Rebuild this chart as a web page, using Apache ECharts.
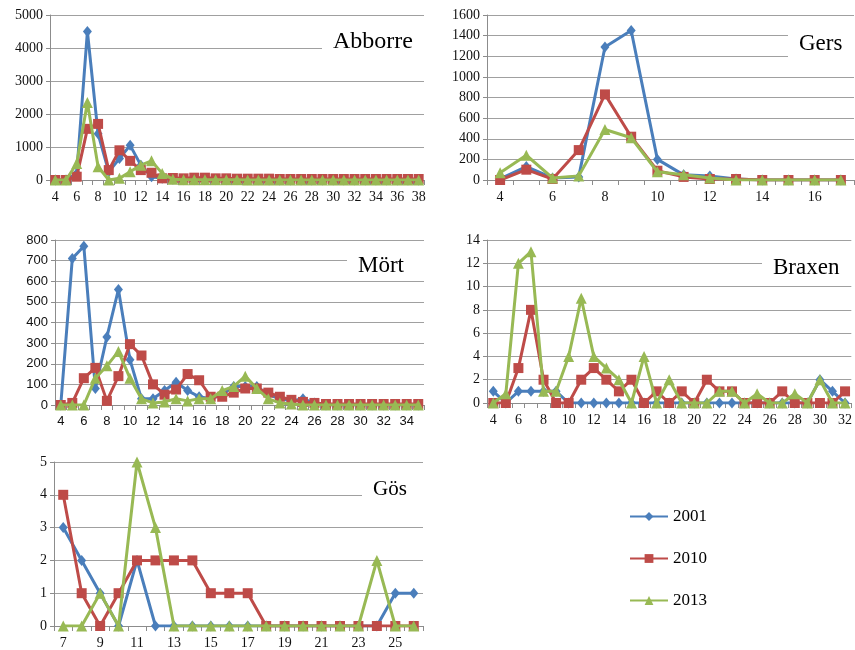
<!DOCTYPE html>
<html>
<head>
<meta charset="utf-8">
<script src="https://cdn.jsdelivr.net/npm/echarts@6/dist/echarts.min.js"></script>
<style>
  html, body { margin: 0; padding: 0; background: #fff; }
  #chart { width: 855px; height: 650px; }
</style>
</head>
<body>
<div id="chart"></div>
<script>
// Length classes (cm) per species
const abborreCats = [4,5,6,7,8,9,10,11,12,13,14,15,16,17,18,19,20,21,22,23,24,25,26,27,28,29,30,31,32,33,34,35,36,37,38];
const abborre2001 = [0,0,200,4500,1400,250,650,1050,450,100,50,20,10,10,10,5,5,5,5,5,0,0,0,0,0,0,0,0,0,0,0,0,0,0,0];
const abborre2010 = [0,0,100,1550,1700,300,900,580,300,220,50,60,50,70,70,50,50,40,40,40,40,30,30,30,30,30,30,30,30,30,30,30,30,30,30];
const abborre2013 = [0,0,500,2350,400,0,50,250,450,580,200,20,10,10,10,5,5,5,0,0,0,0,0,0,0,0,0,0,0,0,0,0,0,0,0];

const gersCats = [4,5,6,7,8,9,10,11,12,13,14,15,16,17];
const gers2001 = [10,130,20,30,1290,1450,200,50,40,10,0,0,0,0];
const gers2010 = [0,100,10,290,830,420,90,30,10,10,0,0,0,0];
const gers2013 = [70,240,20,40,490,410,80,50,20,0,0,0,0,0];

const mortCats = [4,5,6,7,8,9,10,11,12,13,14,15,16,17,18,19,20,21,22,23,24,25,26,27,28,29,30,31,32,33,34,35];
const mort2001 = [0,710,770,80,330,560,220,30,30,70,110,70,40,30,50,90,90,90,50,30,20,30,10,0,0,0,0,0,0,0,0,0];
const mort2010 = [0,10,130,180,20,140,295,240,100,50,75,150,120,40,40,60,80,80,60,40,25,15,10,5,5,5,5,5,5,5,5,5];
const mort2013 = [0,0,0,130,190,260,130,30,10,15,30,20,30,30,70,90,140,80,30,10,5,0,0,0,0,0,0,0,0,0,0,0];

const braxenCats = [4,5,6,7,8,9,10,11,12,13,14,15,16,17,18,19,20,21,22,23,24,25,26,27,28,29,30,31,32];
const braxen2001 = [1,0,1,1,1,1,0,0,0,0,0,0,0,0,0,0,0,0,0,0,0,0,0,0,0,0,2,1,0];
const braxen2010 = [0,0,3,8,2,0,0,2,3,2,1,2,0,1,0,1,0,2,1,1,0,0,0,1,0,0,0,0,1];
const braxen2013 = [0,0.8,12,13,1,1,4,9,4,3,2,0,4,0,2,0,0,0,1,1,0,0.8,0,0,0.8,0,2,0,0];

const gosCats = [7,8,9,10,11,12,13,14,15,16,17,18,19,20,21,22,23,24,25,26];
const gos2001 = [3,2,1,0,2,0,0,0,0,0,0,0,0,0,0,0,0,0,1,1];
const gos2010 = [4,1,0,1,2,2,2,2,1,1,1,0,0,0,0,0,0,0,0,0];
const gos2013 = [0,0,1,0,5,3,0,0,0,0,0,0,0,0,0,0,0,2,0,0];

const years = ['2001', '2010', '2013'];
const colors = { '2001': '#4A7EBB', '2010': '#BE4B48', '2013': '#98B954' };
const symbols = { '2001': ['diamond', [9, 11]], '2010': ['rect', 10], '2013': ['triangle', 11] };

const SERIF = '"Liberation Serif", "Times New Roman", serif';
const SANS = '"Liberation Sans", Arial, sans-serif';

const panels = [
  { name: 'Abborre', cats: abborreCats, data: [abborre2001, abborre2010, abborre2013], max: 5000, step: 1000,
    grid: { left: 50, right: 431, top: 15, bottom: 470 }, font: SERIF, size: 14,
    title: { left: 322, top: 27, size: 24 } },
  { name: 'Gers', cats: gersCats, data: [gers2001, gers2010, gers2013], max: 1600, step: 200,
    grid: { left: 487, right: 1, top: 15, bottom: 470 }, font: SERIF, size: 14,
    title: { left: 788, top: 27, size: 23, padTop: 5, padBottom: 8 } },
  { name: 'Mört', cats: mortCats, data: [mort2001, mort2010, mort2013], max: 800, step: 100,
    grid: { left: 55, right: 431, top: 240, bottom: 245 }, font: SANS, size: 13,
    title: { left: 347, top: 251, size: 23 } },
  { name: 'Braxen', cats: braxenCats, data: [braxen2001, braxen2010, braxen2013], max: 14, step: 2,
    grid: { left: 487, right: 1, top: 240, bottom: 247 }, font: SERIF, size: 14,
    title: { left: 762, top: 253, size: 23 } },
  { name: 'Gös', cats: gosCats, data: [gos2001, gos2010, gos2013], max: 5, step: 1,
    grid: { left: 54, right: 432, top: 462, bottom: 23 }, font: SERIF, size: 14,
    title: { left: 362, top: 476, size: 21 } }
];

const grid = [], xAxis = [], yAxis = [], series = [], title = [];

panels.forEach((p, i) => {
  grid.push(Object.assign({ containLabel: false }, p.grid));
  xAxis.push({
    type: 'category', gridIndex: i, data: p.cats, boundaryGap: true,
    axisLine: { lineStyle: { color: '#8c8c8c', width: 1 } },
    axisTick: { show: true, interval: 0, length: 5, lineStyle: { color: '#8c8c8c' } },
    axisLabel: { interval: 1, color: '#111', fontFamily: p.font, fontSize: p.size, margin: 10 },
    splitLine: { show: false }
  });
  yAxis.push({
    type: 'value', gridIndex: i, min: 0, max: p.max, interval: p.step,
    axisLine: { show: true, lineStyle: { color: '#8c8c8c', width: 1 } },
    axisTick: { show: true, length: 4, lineStyle: { color: '#8c8c8c' } },
    axisLabel: { color: '#111', fontFamily: p.font, fontSize: p.size, margin: 7,
                 formatter: v => String(v) },
    splitLine: { show: true, lineStyle: { color: '#a0a0a0', width: 1 } }
  });
  years.forEach((y, k) => {
    series.push({
      name: y, type: 'line', xAxisIndex: i, yAxisIndex: i,
      data: p.data[k],
      symbol: symbols[y][0], symbolSize: symbols[y][1], showAllSymbol: true,
      lineStyle: { color: colors[y], width: 3 },
      itemStyle: { color: colors[y] },
      z: 2 + k, animation: false
    });
  });
  title.push({
    text: p.name, left: p.title.left, top: p.title.top,
    backgroundColor: '#fff',
    padding: [p.title.padTop || 3, 24, p.title.padBottom || 3, 11],
    textStyle: { fontFamily: SERIF, fontWeight: 'normal', fontSize: p.title.size, color: '#000' }
  });
});

const chart = echarts.init(document.getElementById('chart'), null, { renderer: 'canvas' });
chart.setOption({
  animation: false,
  backgroundColor: '#fff',
  title: title,
  grid: grid,
  xAxis: xAxis,
  yAxis: yAxis,
  series: series,
  legend: {
    data: years, orient: 'vertical', left: 624, top: 503, itemGap: 25,
    itemWidth: 38, itemHeight: 11,
    textStyle: { fontFamily: SERIF, fontSize: 17, color: '#000' }
  }
});
</script>
</body>
</html>
